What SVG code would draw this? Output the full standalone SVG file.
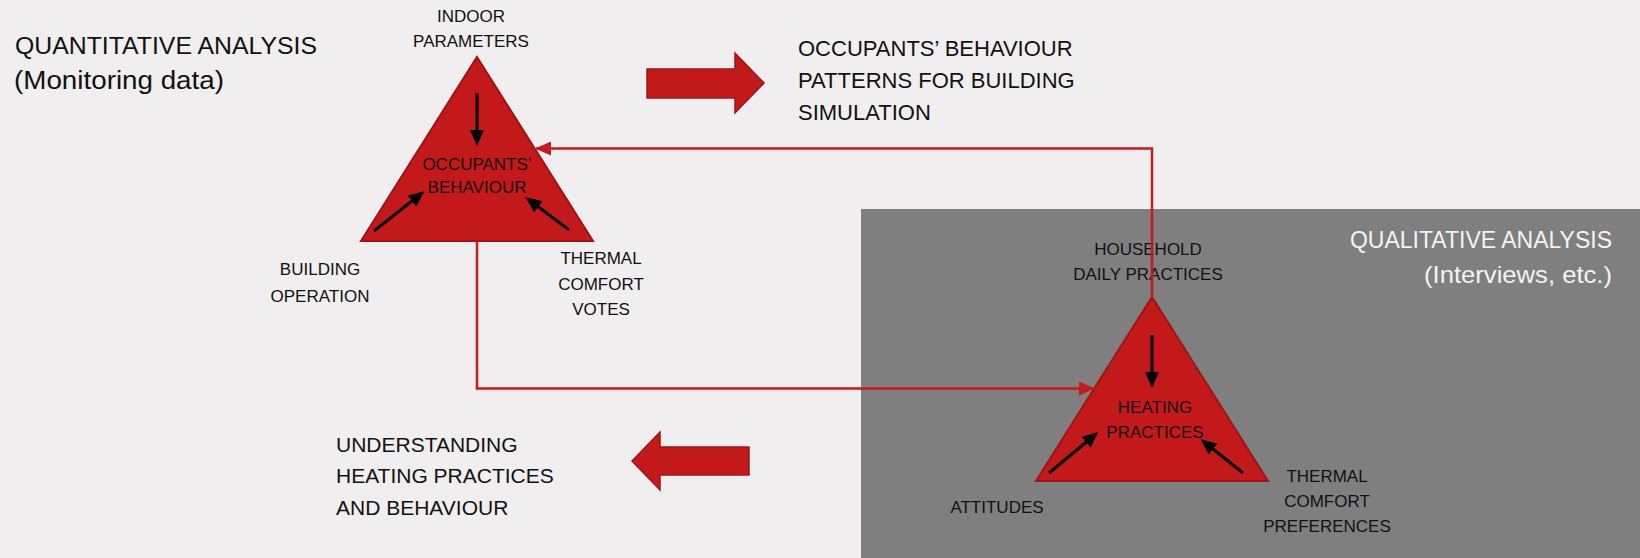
<svg xmlns="http://www.w3.org/2000/svg" width="1640" height="558" viewBox="0 0 1640 558">
  <style>
    text { font-family: "Liberation Sans", Arial, sans-serif; fill: #111; }
    .lbl { font-size: 17px; text-anchor: middle; }
    .big { font-size: 22px; }
    .title { font-size: 24.5px; }
    .qual { font-size: 23px; fill: #F4F4F4; text-anchor: end; }
    .tri { fill: #C4191B; stroke: #9E1517; stroke-width: 2; }
    .bigarrow { fill: #C4191B; stroke: #9E1517; stroke-width: 1.5; }
    .inner { stroke: #000; stroke-width: 3; fill: none; marker-end: url(#blk); }
    .conn { stroke: #C8191C; stroke-width: 2.5; fill: none; marker-end: url(#red); }
  </style>
  <defs>
    <marker id="blk" markerUnits="userSpaceOnUse" markerWidth="16" markerHeight="14" refX="13" refY="7" orient="auto">
      <path d="M0,0 L16,7 L0,14 z" fill="#000"/>
    </marker>
    <marker id="red" markerUnits="userSpaceOnUse" markerWidth="16" markerHeight="14" refX="15" refY="7" orient="auto">
      <path d="M0,0 L16,7 L0,14 z" fill="#C8191C"/>
    </marker>
  </defs>

  <rect width="1640" height="558" fill="#F0EEEF"/>
  <rect id="qualitative-panel" x="861" y="209" width="779" height="349" fill="#7F7F7F"/>

  <g id="quantitative-title">
    <text class="title" x="15" y="54" textLength="302" lengthAdjust="spacingAndGlyphs">QUANTITATIVE ANALYSIS</text>
    <text class="title" x="14" y="89" style="font-size:26px" textLength="210" lengthAdjust="spacingAndGlyphs">(Monitoring data)</text>
  </g>

  <g id="qualitative-title">
    <text class="qual" x="1612" y="248">QUALITATIVE ANALYSIS</text>
    <text class="qual" x="1612" y="283" style="font-size:24px" textLength="188" lengthAdjust="spacingAndGlyphs">(Interviews, etc.)</text>
  </g>

  <g id="occupants-behaviour">
    <polygon class="tri" points="477,57 593,241 361,241"/>
    <path class="inner" d="M477,93 V143"/>
    <path class="inner" d="M374,231 L422,193"/>
    <path class="inner" d="M569,230 L528,199"/>
    <text class="lbl" x="477" y="170">OCCUPANTS’</text>
    <text class="lbl" x="477" y="193">BEHAVIOUR</text>
    <text class="lbl" x="471" y="22">INDOOR</text>
    <text class="lbl" x="471" y="47">PARAMETERS</text>
    <text class="lbl" x="320" y="275">BUILDING</text>
    <text class="lbl" x="320" y="302">OPERATION</text>
    <text class="lbl" x="601" y="264">THERMAL</text>
    <text class="lbl" x="601" y="290">COMFORT</text>
    <text class="lbl" x="601" y="315">VOTES</text>
  </g>

  <g id="heating-practices">
    <polygon class="tri" points="1152,297 1268,481 1036,481"/>
    <path class="inner" d="M1152,335 V385"/>
    <path class="inner" d="M1049,473 L1096,434"/>
    <path class="inner" d="M1243,473 L1203,441"/>
    <text class="lbl" x="1155" y="413">HEATING</text>
    <text class="lbl" x="1155" y="438">PRACTICES</text>
    <text class="lbl" x="1148" y="255">HOUSEHOLD</text>
    <text class="lbl" x="1148" y="280">DAILY PRACTICES</text>
    <text class="lbl" x="997" y="513">ATTITUDES</text>
    <text class="lbl" x="1327" y="482">THERMAL</text>
    <text class="lbl" x="1327" y="507">COMFORT</text>
    <text class="lbl" x="1327" y="532">PREFERENCES</text>
  </g>

  <g id="simulation-output">
    <polygon class="bigarrow" points="647,69 735,69 735,53 764,83 735,113 735,98 647,98"/>
    <text class="big" x="798" y="56">OCCUPANTS’ BEHAVIOUR</text>
    <text class="big" x="798" y="88">PATTERNS FOR BUILDING</text>
    <text class="big" x="798" y="120">SIMULATION</text>
  </g>

  <g id="understanding-output">
    <polygon class="bigarrow" points="632,461 660,432 660,447 749,447 749,475 660,475 660,490"/>
    <text class="big" x="336" y="452" style="font-size:21px">UNDERSTANDING</text>
    <text class="big" x="336" y="483" style="font-size:21px">HEATING PRACTICES</text>
    <text class="big" x="336" y="515" style="font-size:21px">AND BEHAVIOUR</text>
  </g>

  <g id="connectors">
    <path class="conn" d="M477,241 V388.5 H1094"/>
    <path class="conn" d="M1152,297 V148.5 H536"/>
  </g>
</svg>
